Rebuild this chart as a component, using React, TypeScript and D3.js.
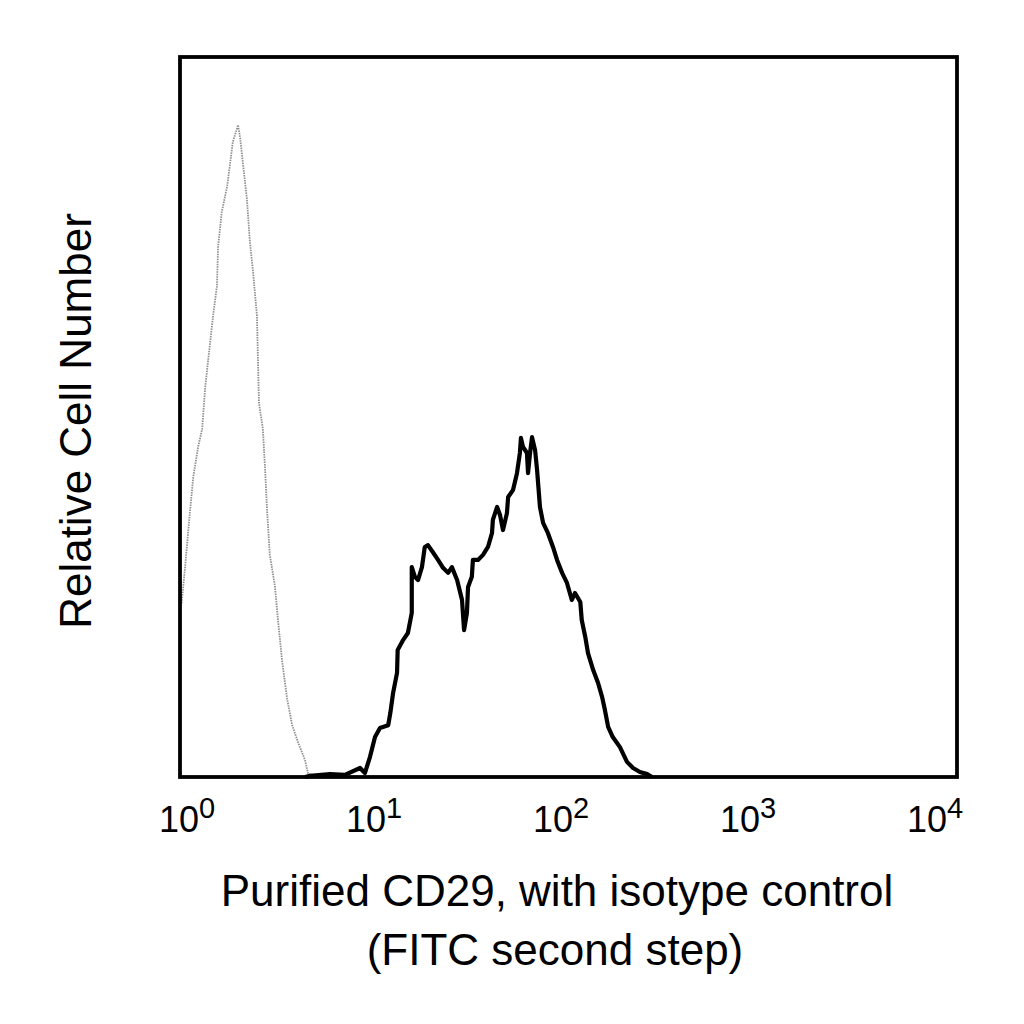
import React from "react";
import * as d3 from "d3";

// Fluorescence intensity (log axis) and relative counts
const cd29Intensity = [4.41, 4.67, 5.92, 7.06, 8.45, 8.95, 9.51, 10.09, 10.7, 11.8, 12.1, 12.5, 13.1, 13.2, 14.1, 14.9, 15.6, 15.6, 16.2, 16.8, 17.6, 18.2, 18.9, 20.0, 21.3, 22.6, 24.0, 25.1, 26.7, 28.3, 29.0, 30.0, 30.4, 31.8, 32.2, 34.2, 36.3, 38.5, 40.4, 40.8, 42.9, 44.4, 46.0, 48.2, 48.9, 51.8, 54.3, 56.2, 56.9, 58.3, 61.1, 61.9, 63.4, 64.9, 67.3, 68.9, 71.3, 74.0, 78.3, 83.2, 87.3, 92.7, 98.2, 104, 108, 115, 117, 122, 126, 134, 142, 149, 154, 160, 169, 184, 200, 215, 233, 254, 269];
const cd29Count = [0, 0.3, 0.8, 0.6, 2.5, 1.1, 5.6, 11.1, 13.6, 14.4, 17.8, 23.3, 28.9, 35.3, 38.1, 40.0, 45.6, 58.3, 55.6, 54.7, 58.3, 63.9, 64.4, 62.5, 60.3, 58.1, 56.7, 58.3, 54.7, 49.2, 40.8, 45.6, 52.8, 55.6, 60.3, 60.3, 61.7, 63.9, 67.8, 71.4, 75.0, 72.8, 68.6, 73.3, 77.8, 79.7, 84.4, 90.0, 94.2, 91.7, 90.0, 84.4, 90.0, 94.4, 90.8, 85.3, 75.0, 70.6, 67.8, 63.9, 60.3, 56.7, 53.9, 49.2, 51.1, 48.6, 43.6, 38.9, 34.4, 29.7, 26.1, 22.2, 18.6, 13.9, 11.1, 8.3, 4.2, 2.5, 1.4, 0.8, 0];

const isotypeIntensity = [1.0, 1.02, 1.06, 1.12, 1.17, 1.24, 1.30, 1.35, 1.43, 1.48, 1.55, 1.57, 1.64, 1.75, 1.81, 1.87, 1.99, 2.04, 2.11, 2.21, 2.29, 2.38, 2.49, 2.52, 2.55, 2.67, 2.74, 2.81, 2.90, 3.08, 3.20, 3.35, 3.56, 3.78, 4.05, 4.40, 4.56, 4.95];
const isotypeCount = [47, 48.3, 57.8, 72.5, 83.3, 91.7, 96.7, 108.6, 120.8, 128.1, 136.4, 147.2, 156.9, 164.2, 170.3, 176.4, 181.1, 177.5, 170.3, 160.6, 148.6, 140.0, 128.1, 115.8, 103.9, 96.7, 85.8, 73.6, 61.7, 53.1, 43.3, 32.5, 21.7, 14.4, 9.7, 4.7, 1.1, 0];

const tickValues = [1, 10, 100, 1000, 10000];
const tickExponents = ["0", "1", "2", "3", "4"];

const xTitle1 = "Purified CD29, with isotype control";
const xTitle2 = "(FITC second step)";
const yTitle = "Relative Cell Number";

const FONT = "'Liberation Sans', Arial, Helvetica, sans-serif";

export default function App() {
  const left = 180, right = 957, top = 57, bottom = 777;
  const x = d3.scaleLog().domain([1, 10000]).range([left, right]);
  const labelX = d3.scaleLog().domain([1, 10000]).range([187, 935]);
  const y = d3.scaleLinear().domain([0, 200]).range([bottom, top]);

  const line = d3
    .line<[number, number]>()
    .x((d) => x(d[0]))
    .y((d) => y(d[1]))
    .curve(d3.curveLinear);

  const cd29 = cd29Intensity.map((v, i) => [v, cd29Count[i]] as [number, number]);
  const iso = isotypeIntensity.map((v, i) => [v, isotypeCount[i]] as [number, number]);

  return (
    <div style={{ position: "absolute", left: 0, top: 0 }}>
      <svg width={1024} height={1024} style={{ display: "block", background: "#fff" }}>
        <rect x={0} y={0} width={1024} height={1024} fill="#fff" />
        <path d={line(iso) || ""} fill="none" stroke="#8f8f8f" strokeWidth={1.8} strokeDasharray="1.5 1" />
        <path d={line(cd29) || ""} fill="none" stroke="#000" strokeWidth={4.2} strokeLinejoin="round" />
        <rect x={left} y={top} width={right - left} height={bottom - top} fill="none" stroke="#000" strokeWidth={3.8} />
        {tickValues.map((t, i) => (
          <text key={t} x={labelX(t)} y={832} fontFamily={FONT} fontSize={36} textAnchor="middle" fill="#000">
            10
            <tspan fontSize={29} dy={-14}>{tickExponents[i]}</tspan>
          </text>
        ))}
        <text x={557} y={906} fontFamily={FONT} fontSize={44} textAnchor="middle" fill="#000">{xTitle1}</text>
        <text x={555} y={965} fontFamily={FONT} fontSize={44} textAnchor="middle" fill="#000">{xTitle2}</text>
        <text transform="translate(91,421) rotate(-90)" fontFamily={FONT} fontSize={44} textAnchor="middle" fill="#000">{yTitle}</text>
      </svg>
    </div>
  );
}
